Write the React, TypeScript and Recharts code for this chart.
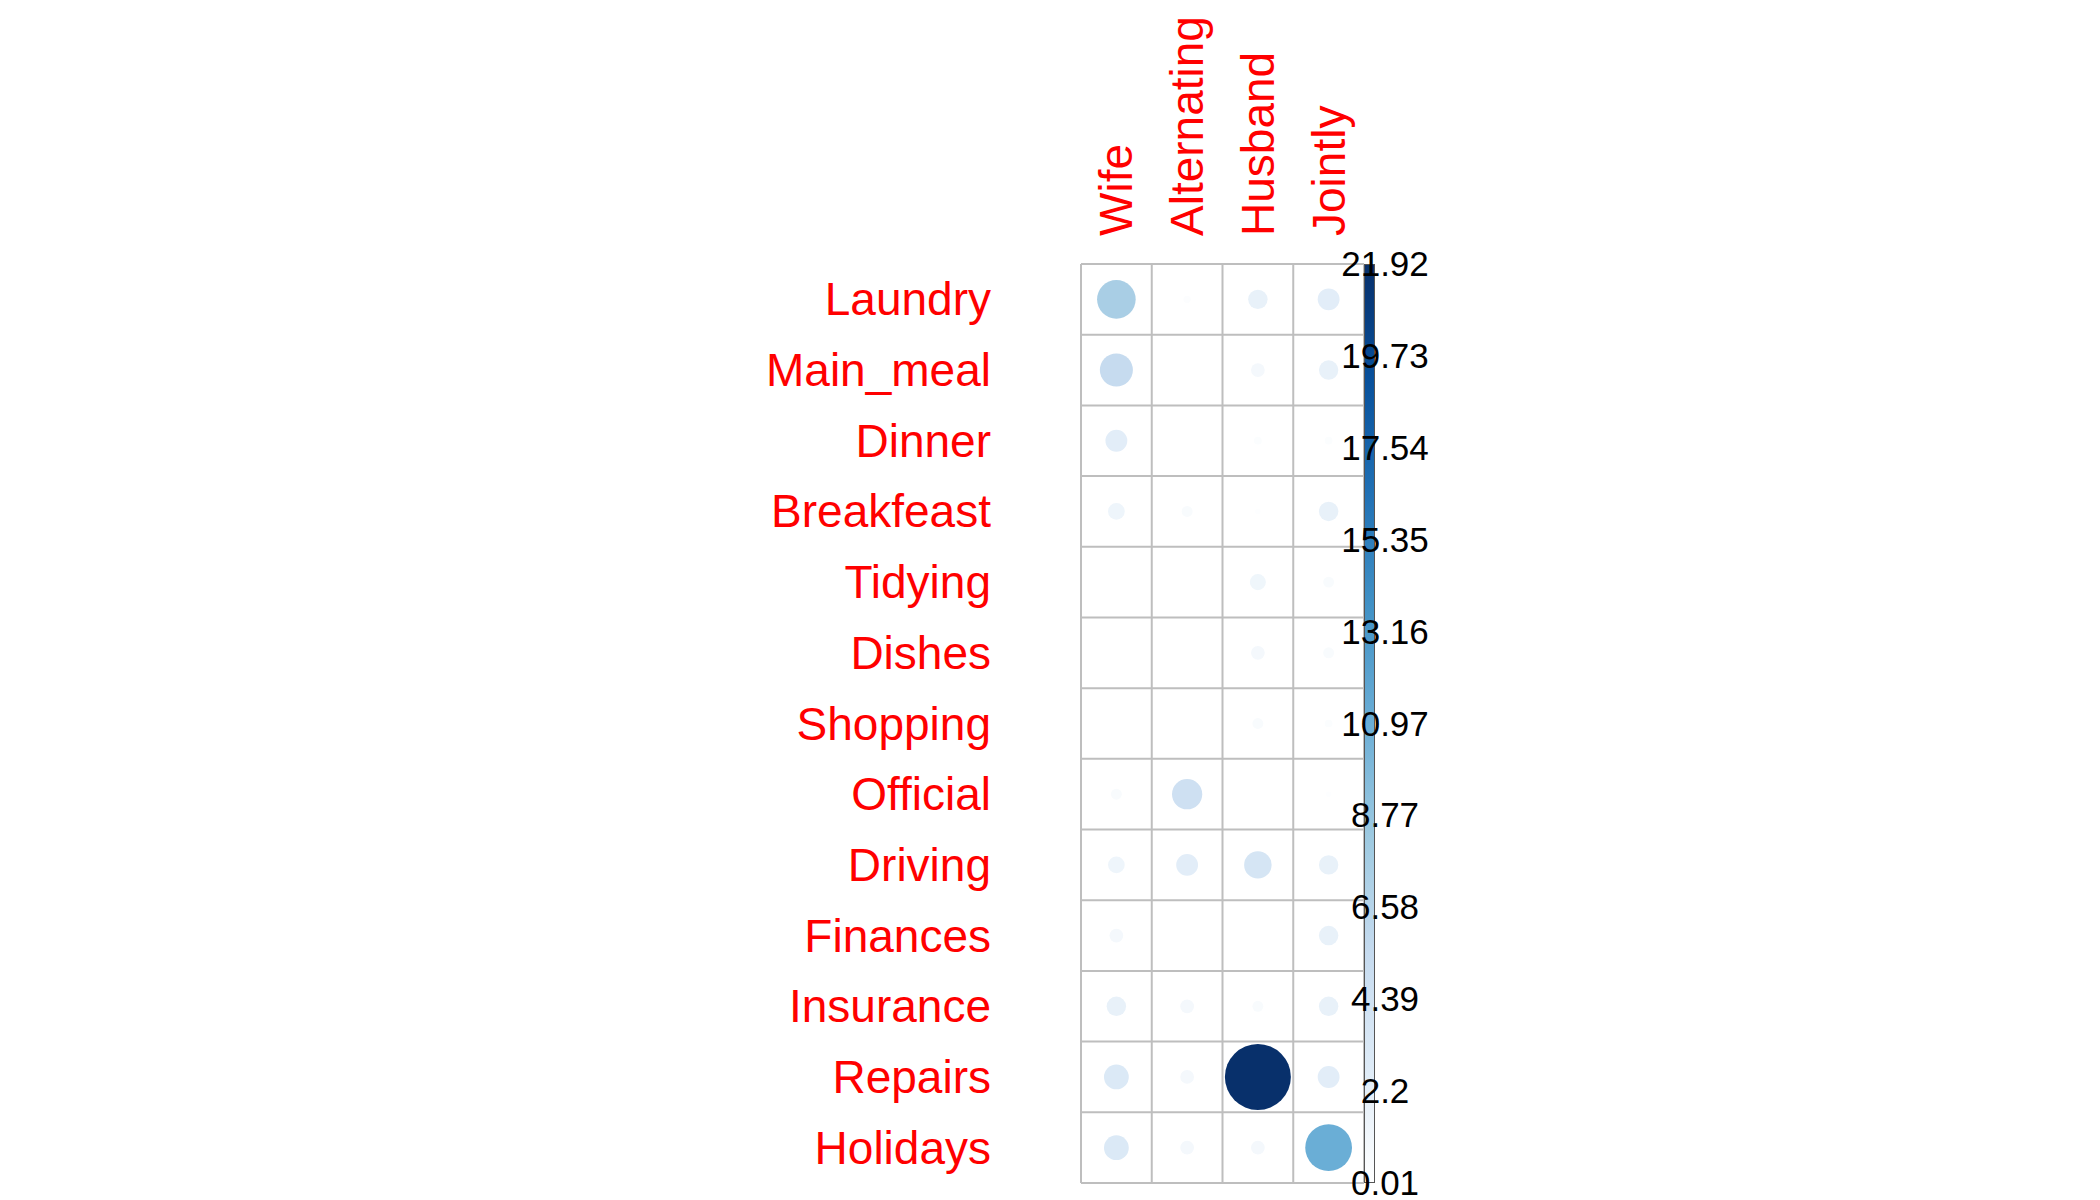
import { CartesianGrid, Scatter, ScatterChart, XAxis, YAxis } from 'recharts';

const columns = ['Wife', 'Alternating', 'Husband', 'Jointly'];
const rows = ['Laundry', 'Main_meal', 'Dinner', 'Breakfeast', 'Tidying', 'Dishes', 'Shopping', 'Official', 'Driving', 'Finances', 'Insurance', 'Repairs', 'Holidays'];
const wife = [7.5, 5.5, 2.4, 1.4, 0, 0, 0, 0.6, 1.4, 0.95, 1.9, 3.1, 3.1];
const alternating = [0.27, 0, 0, 0.6, 0, 0, 0, 4.6, 2.4, 0, 0.95, 0.95, 0.95];
const husband = [1.9, 0.95, 0.3, 0.15, 1.3, 0.95, 0.6, 0, 3.8, 0, 0.6, 21.92, 0.95];
const jointly = [2.4, 1.9, 0.3, 1.9, 0.6, 0.6, 0.3, 0.15, 1.9, 1.9, 1.9, 2.4, 11];
const legendTicks = ['0.01', '2.2', '4.39', '6.58', '8.77', '10.97', '13.16', '15.35', '17.54', '19.73', '21.92'];

const seriesValues = [wife, alternating, husband, jointly];
const maxValue = 21.92;
const points = rows.flatMap((row, r) =>
  columns.map((col, c) => ({ x: c + 0.5, y: r + 0.5, value: seriesValues[c][r], row, col }))
);

const plot = { left: 1081, right: 1364, top: 264, bottom: 1183 };
const font = '"Liberation Sans", Arial, sans-serif';

const stops: [number, number, number][] = [
  [255, 255, 255], [222, 235, 247], [198, 219, 239], [158, 202, 225], [107, 174, 214], [66, 146, 198], [33, 113, 181], [8, 81, 156], [8, 48, 107],
];
function blues(t: number): string {
  const p = Math.max(0, Math.min(1, t)) * (stops.length - 1);
  const i = Math.min(stops.length - 2, Math.floor(p));
  const f = p - i;
  const c = stops[i].map((v, k) => Math.round(v + (stops[i + 1][k] - v) * f));
  return `rgb(${c[0]},${c[1]},${c[2]})`;
}

function Dot(props: any) {
  const { cx, cy, payload } = props;
  if (!payload || payload.value <= 0) return null;
  const r = 33 * Math.sqrt(payload.value / maxValue);
  return <circle cx={cx} cy={cy} r={r} fill={blues(payload.value / maxValue)} />;
}

function ColTick(props: any) {
  const { x, y, payload } = props;
  return (
    <text x={x} y={y} transform={`rotate(-90 ${x} ${y})`} dx={20} dy={16} textAnchor="start" fill="#ff0000" fontSize={46} fontFamily={font}>
      {columns[Math.floor(payload.value)]}
    </text>
  );
}

function RowTick(props: any) {
  const { x, y, payload } = props;
  return (
    <text x={x} y={y} dy={16} textAnchor="end" fill="#ff0000" fontSize={46} fontFamily={font}>
      {rows[Math.floor(payload.value)]}
    </text>
  );
}

export default function App() {
  const barH = plot.bottom - plot.top;
  return (
    <div style={{ position: 'absolute', left: 0, top: 0, width: 2100, height: 1200, background: '#fff' }}>
      <ScatterChart width={2100} height={1200} margin={{ top: plot.top - 200, right: 2100 - plot.right, bottom: 1200 - plot.bottom, left: plot.left - 300 }}>
        <CartesianGrid stroke="#bebebe" strokeWidth={2} horizontal vertical />
        <XAxis xAxisId="grid" dataKey="x" type="number" domain={[0, 4]} ticks={[0, 1, 2, 3, 4]} hide />
        <XAxis xAxisId="labels" dataKey="x" type="number" domain={[0, 4]} ticks={[0.5, 1.5, 2.5, 3.5]} orientation="top" height={200} axisLine={false} tickLine={false} tick={<ColTick />} />
        <YAxis yAxisId="grid" dataKey="y" type="number" domain={[0, 13]} ticks={[0, 1, 2, 3, 4, 5, 6, 7, 8, 9, 10, 11, 12, 13]} reversed hide />
        <YAxis yAxisId="labels" dataKey="y" type="number" domain={[0, 13]} ticks={rows.map((_, i) => i + 0.5)} reversed width={300} axisLine={false} tickLine={false} tickMargin={24} tick={<RowTick />} />
        <CartesianGrid xAxisId="grid" yAxisId="grid" stroke="#bebebe" strokeWidth={2} />
        <Scatter data={points} xAxisId="grid" yAxisId="grid" shape={<Dot />} isAnimationActive={false} />
        <Scatter data={points} xAxisId="labels" yAxisId="labels" shape={() => null} isAnimationActive={false} />
      </ScatterChart>
      <div style={{ position: 'absolute', left: plot.right, top: plot.top, width: 11, height: barH, border: '1px solid #555', boxSizing: 'border-box', background: `linear-gradient(to top, ${stops.map((s) => `rgb(${s.join(',')})`).join(',')})` }} />
      {legendTicks.map((t, i) => (
        <div key={t} style={{ position: 'absolute', left: 1385, top: plot.bottom - (barH * i) / (legendTicks.length - 1) - 20, transform: 'translateX(-50%)', fontFamily: font, fontSize: 35, lineHeight: '40px', color: '#000' }}>
          {t}
        </div>
      ))}
    </div>
  );
}
